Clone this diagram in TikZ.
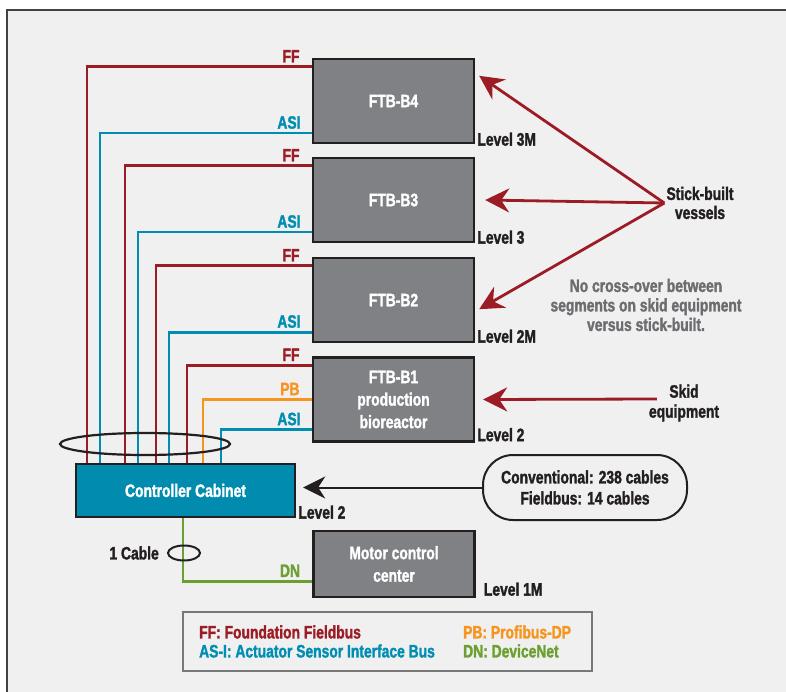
\documentclass[tikz,border=0pt]{standalone}
\usepackage{fontspec}
\setmainfont{Liberation Sans}[FakeStretch=0.77,BoldFeatures={FakeBold=1.6}]
\usetikzlibrary{arrows.meta,shapes.geometric}
\definecolor{ffred}{RGB}{155,28,36}
\definecolor{asiblue}{RGB}{0,141,178}
\definecolor{pborange}{RGB}{247,148,30}
\definecolor{dngreen}{RGB}{107,160,48}
\definecolor{boxgray}{RGB}{128,129,133}
\definecolor{cabblue}{RGB}{0,139,175}
\definecolor{paper}{RGB}{240,240,240}
\definecolor{ink}{RGB}{35,31,32}
\definecolor{notegray}{RGB}{108,109,112}
\definecolor{keygray}{RGB}{120,120,120}

\begin{document}
\begin{tikzpicture}[x=1pt,y=-1pt,font=\fontsize{18}{20}\selectfont\bfseries]
  \tikzstyle{every node}=[inner sep=2pt]
  \tikzstyle{ftb}=[draw=ink,line width=2.4pt,fill=boxgray,text=white,minimum width=161pt,minimum height=84pt,align=center,font=\fontsize{18}{22.5}\selectfont\bfseries]
  \tikzstyle{bus}=[line width=2.6pt]
  \tikzstyle{lbl}=[anchor=south east,xshift=-9pt,yshift=1pt]
  \tikzstyle{level}=[anchor=west,text=ink]
  \tikzstyle{bigarrow}=[line width=2.8pt,-{Stealth[length=24pt,width=24pt,inset=8pt]}]
  \useasboundingbox (0,0) rectangle (786,692);
  \fill [paper] (7,10) rectangle (786,692);
  \draw [line width=2.6pt,ink!85] (7,692) -- (7,10) -- (786,10);

  \node [ftb] (b4) at (393.5,101) {FTB-B4};
  \node [ftb] (b3) at (393.5,200) {FTB-B3};
  \node [ftb] (b2) at (393.5,300) {FTB-B2};
  \node [ftb] (b1) at (393.5,399.5) {FTB-B1\\production\\bioreactor};
  \node [ftb,minimum height=66pt] (mcc) at (394,564) {Motor control\\center};
  \node [draw=ink,line width=2.4pt,fill=cabblue,text=white,minimum width=219pt,minimum height=53pt] (cab) at (185.5,490.5) {Controller Cabinet};

  \draw [bus,ffred] ([yshift=-9pt]b4.north west) node [lbl] {FF} -| ([xshift=12pt]cab.north west);
  \draw [bus,asiblue] ([yshift=11pt]b4.south west) node [lbl,xshift=1pt] {ASI} -| ([xshift=25pt]cab.north west);
  \draw [bus,ffred] ([yshift=-9pt]b3.north west) node [lbl] {FF} -| ([xshift=50pt]cab.north west);
  \draw [bus,asiblue] ([yshift=11pt]b3.south west) node [lbl,xshift=1pt] {ASI} -| ([xshift=63pt]cab.north west);
  \draw [bus,ffred] ([yshift=-9pt]b2.north west) node [lbl] {FF} -| ([xshift=81pt]cab.north west);
  \draw [bus,asiblue] ([yshift=11pt]b2.south west) node [lbl,xshift=1pt] {ASI} -| ([xshift=94pt]cab.north west);
  \draw [bus,ffred] ([yshift=-9pt]b1.north west) node [lbl] {FF} -| ([xshift=112pt]cab.north west);
  \draw [bus,pborange] (b1.west) node [lbl] {PB} -| ([xshift=128pt]cab.north west);
  \draw [bus,asiblue] ([yshift=13pt]b1.south west) node [lbl,xshift=1pt] {ASI} -| ([xshift=146pt]cab.north west);
  \draw [bus,dngreen] ([yshift=17pt]mcc.south west) node [lbl] {DN} -| ([xshift=108pt]cab.south west);

  \node [ellipse,draw=ink,line width=2.2pt,minimum width=170pt,minimum height=22pt] (bundle) at (145,444) {};
  \node [ellipse,draw=ink,line width=2pt,minimum width=32pt,minimum height=15pt,inner sep=0pt] (onecable) at (184,553) {};
  \node [anchor=east,text=ink,xshift=-6pt] (cablelbl) at (onecable.west) {1 Cable};

  \node [level] (lv4) at ([yshift=5pt]b4.south east) {Level 3M};
  \node [level] (lv3) at ([yshift=6pt]b3.south east) {Level 3};
  \node [level] (lv2m) at ([yshift=7pt]b2.south east) {Level 2M};
  \node [level] (lv2) at ([yshift=8pt]b1.south east) {Level 2};
  \node [level] (lvcab) at ([yshift=6pt]cab.south east) {Level 2};
  \node [level] (lv1m) at ([xshift=6pt,yshift=9pt]mcc.south east) {Level 1M};

  \node [align=center,text=ink,font=\fontsize{18}{19}\selectfont\bfseries] (stick) at (700,203) {Stick-built\\vessels};
  \draw [bigarrow,ffred] (stick.west) -- ([xshift=4pt,yshift=-18pt]b4.north east);
  \draw [bigarrow,ffred] (stick.west) -- ([xshift=10pt]b3.east);
  \draw [bigarrow,ffred] (stick.west) -- ([xshift=4pt,yshift=34pt]b2.south east);

  \node [align=center,text=notegray,font=\fontsize{18}{19.5}\selectfont\bfseries] (note) at (646,305) {No cross-over between\\segments on skid equipment\\versus stick-built.};

  \node [align=center,text=ink] (skid) at (684,403) {Skid\\equipment};
  \draw [bigarrow,ffred] ([xshift=10pt,yshift=4pt]skid.west) -- ([xshift=8pt]b1.east);

  \node [draw=ink,line width=2pt,rounded corners=30pt,minimum width=204pt,minimum height=65pt,align=center,text=ink,font=\fontsize{18}{21}\selectfont\bfseries] (conv) at (585,487.5) {Conventional: 238 cables\\Fieldbus: 14 cables};
  \draw [line width=2pt,ink,-{Stealth[length=22pt,width=22pt,inset=7pt]}] (conv.west) -- ([xshift=7pt]conv.west -| cab.east);

  \node [draw=keygray,line width=2pt,minimum width=409pt,minimum height=59pt] (legend) at (387.5,641.5) {};
  \node [anchor=west,text=ffred] (ffkey) at ([xshift=15pt,yshift=9.5pt]legend.west) {FF: Foundation Fieldbus};
  \node [anchor=west,text=asiblue] (asikey) at ([xshift=15pt,yshift=-9.5pt]legend.west) {AS-I: Actuator Sensor Interface Bus};
  \node [anchor=west,text=pborange] (pbkey) at ([xshift=279pt,yshift=9.5pt]legend.west) {PB: Profibus-DP};
  \node [anchor=west,text=dngreen] (dnkey) at ([xshift=279pt,yshift=-9.5pt]legend.west) {DN: DeviceNet};
\end{tikzpicture}
\end{document}
